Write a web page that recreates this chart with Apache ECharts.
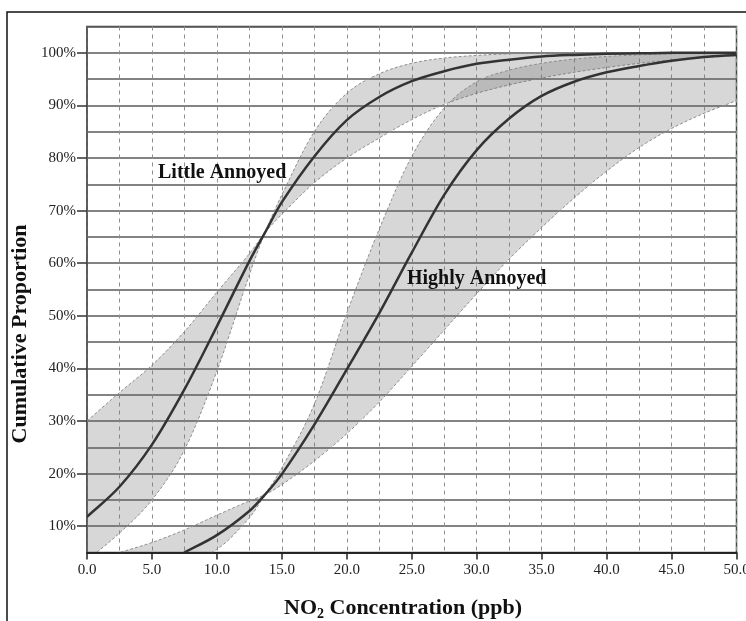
<!DOCTYPE html>
<html>
<head>
<meta charset="utf-8">
<script src="https://cdn.jsdelivr.net/npm/echarts@6/dist/echarts.min.js"></script>
<style>
  html, body { margin: 0; padding: 0; background: #fff; }
  #chart { width: 746px; height: 621px; }
</style>
</head>
<body>
<div id="chart"></div>
<script>
// NO2 concentration (ppb) sample points shared by every curve
var gridX = [0, 2.5, 5, 7.5, 10, 12.5, 13.7, 15, 17.5, 20, 22.5, 25, 27.5, 30, 32.5, 35, 37.5, 40, 42.5, 45, 47.5, 50];

// Little Annoyed: fitted curve and the two bounds of its band (%)
var littleMid = [11.8, 17.5, 25.5, 36, 48, 60.4, 65.8, 71.6, 80.3, 87.2, 91.6, 94.6, 96.5, 97.9, 98.7, 99.3, 99.6, 99.8, 99.9, 100, 100, 100];
var littleA = [30, 35.4, 40.6, 47, 54.5, 61.8, 65.8, 69.3, 75.3, 80, 83.8, 87.3, 90.2, 92.3, 93.9, 95.2, 96.3, 97.2, 98, 98.6, 99.1, 99.5];
var littleB = [3.5, 8.7, 15, 24.5, 39.5, 57.8, 65.8, 73, 85, 92.3, 96, 98, 99, 99.5, 99.8, 99.9, 100, 100, 100, 100, 100, 100];

// Highly Annoyed: fitted curve and band bounds (%)
var highlyMid = [null, null, null, 5, 8.3, 12.9, 16, 19.9, 29.3, 39.8, 50.5, 62, 73, 81.5, 87.5, 91.8, 94.5, 96.3, 97.5, 98.5, 99.2, 99.6];
var highlyA = [3.2, 5, 6.9, 9.3, 12.1, 14.8, 16, 17.9, 22.4, 27.6, 33.6, 40.4, 47.3, 54.2, 60.8, 66.8, 72.4, 77.5, 82, 85.6, 88.5, 90.9];
var highlyB = [0.5, 1, 1.8, 3.3, 5.6, 11.6, 16, 21.1, 33.2, 50.5, 66.5, 80.3, 89.5, 94.5, 96.7, 98, 98.8, 99.3, 99.6, 99.8, 99.9, 100];

var xTicks = [0, 5, 10, 15, 20, 25, 30, 35, 40, 45, 50];
var yTicks = [10, 20, 30, 40, 50, 60, 70, 80, 90, 100];

var serif = "'Liberation Serif', 'Times New Roman', serif";

// cubic segments through pixel points, slopes from neighbouring points
function curveSegs(p) {
  var n = p.length, m = [];
  for (var i = 0; i < n; i++) {
    var a = p[Math.max(i - 1, 0)], b = p[Math.min(i + 1, n - 1)];
    m.push((b[1] - a[1]) / (b[0] - a[0]));
  }
  var d = '';
  for (var j = 0; j < n - 1; j++) {
    var h = (p[j + 1][0] - p[j][0]) / 3;
    d += ' C' + (p[j][0] + h) + ',' + (p[j][1] + m[j] * h) + ' ' +
      (p[j + 1][0] - h) + ',' + (p[j + 1][1] - m[j + 1] * h) + ' ' + p[j + 1][0] + ',' + p[j + 1][1];
  }
  return d;
}

function clipRect(cs) {
  return { type: 'rect', shape: { x: cs.x, y: cs.y, width: cs.width, height: cs.height } };
}

function bandSeries(a, b) {
  return {
    type: 'custom',
    clip: true,
    silent: true,
    encode: { x: 0, y: [1, 2] },
    data: gridX.map(function (x, i) { return [x, a[i], b[i]]; }),
    renderItem: function (params, api) {
      if (params.dataIndex !== 0) return;
      var pa = gridX.map(function (x, i) { return api.coord([x, a[i]]); });
      var pb = gridX.map(function (x, i) { return api.coord([x, b[i]]); }).reverse();
      var fill = 'M' + pa[0].join(',') + curveSegs(pa) + ' L' + pb[0].join(',') + curveSegs(pb) + ' Z';
      var edge = { fill: 'none', stroke: '#8e8e8e', lineWidth: 1, lineDash: [3, 2] };
      return {
        type: 'group',
        clipPath: clipRect(params.coordSys),
        children: [
          { type: 'path', shape: { pathData: fill }, style: { fill: 'rgba(110,110,110,0.28)', stroke: 'none' } },
          { type: 'path', shape: { pathData: 'M' + pa[0].join(',') + curveSegs(pa) }, style: edge },
          { type: 'path', shape: { pathData: 'M' + pb[0].join(',') + curveSegs(pb) }, style: edge }
        ]
      };
    }
  };
}

function midSeries(vals) {
  var rows = [];
  gridX.forEach(function (x, i) { if (vals[i] != null) rows.push([x, vals[i]]); });
  return {
    type: 'custom',
    clip: true,
    silent: true,
    z: 3,
    encode: { x: 0, y: 1 },
    data: rows,
    renderItem: function (params, api) {
      if (params.dataIndex !== 0) return;
      var p = rows.map(function (r) { return api.coord(r); });
      return {
        type: 'path',
        clipPath: clipRect(params.coordSys),
        shape: { pathData: 'M' + p[0].join(',') + curveSegs(p) },
        style: { fill: 'none', stroke: '#333', lineWidth: 2.5, lineCap: 'round' }
      };
    }
  };
}

var chart = echarts.init(document.getElementById('chart'));
var option = {
  backgroundColor: '#fff',
  animation: false,
  grid: {
    left: 87, right: 9.5, top: 26.5, bottom: 68.5,
    outerBoundsMode: 'none',
    show: true, borderColor: '#444', borderWidth: 1.5
  },
  xAxis: [
    {
      type: 'value', min: 0, max: 50, interval: 2.5, position: 'bottom',
      axisLine: { show: false }, axisTick: { show: false }, axisLabel: { show: false },
      splitLine: { show: true, lineStyle: { color: '#8f8f8f', width: 1, type: [4, 4] } }
    },
    {
      type: 'value', min: 0, max: 50, interval: 5, position: 'bottom', offset: 0,
      axisLine: { show: true, lineStyle: { color: '#111', width: 1.5 } },
      axisTick: { show: true, length: 7, lineStyle: { color: '#222', width: 1.5 } },
      axisLabel: {
        margin: 10, fontSize: 15, fontFamily: serif, color: '#222',
        formatter: function (v) { return v.toFixed(1); }
      },
      splitLine: { show: false }
    }
  ],
  yAxis: [
    {
      type: 'value', min: 5, max: 105, interval: 5, position: 'left',
      axisLine: { show: false }, axisTick: { show: false }, axisLabel: { show: false },
      splitLine: { show: true, lineStyle: { color: '#5a5a5a', width: 1.5 } }
    },
    {
      type: 'value', min: 5, max: 105, interval: 5, position: 'left', offset: 0,
      axisLine: { show: true, lineStyle: { color: '#555', width: 1.5 } },
      axisTick: { show: true, customValues: yTicks, length: 10, lineStyle: { color: '#333', width: 1.5 } },
      axisLabel: {
        customValues: yTicks, margin: 11, fontSize: 15, fontFamily: serif, color: '#222',
        formatter: '{value}%'
      },
      splitLine: { show: false }
    }
  ],
  graphic: [
    { type: 'rect', shape: { x: 7, y: 12, width: 800, height: 700 }, style: { fill: 'none', stroke: '#111', lineWidth: 1.5 } },
    {
      type: 'text', x: 20, y: 334, rotation: Math.PI / 2,
      style: { text: 'Cumulative Proportion', fontSize: 22, fontWeight: 'bold', fontFamily: serif, fill: '#111', align: 'center', verticalAlign: 'middle' }
    },
    {
      type: 'text', x: 403, y: 608,
      style: {
        text: '{a|NO}{s|2}{a| Concentration (ppb)}', align: 'center', verticalAlign: 'middle',
        rich: {
          a: { fontSize: 22, fontWeight: 'bold', fontFamily: serif, fill: '#111', lineHeight: 26 },
          s: { fontSize: 14, fontWeight: 'bold', fontFamily: serif, fill: '#111', lineHeight: 14, verticalAlign: 'bottom' }
        }
      }
    },
    {
      type: 'text', x: 158, y: 173, z: 10,
      style: { text: 'Little Annoyed', fontSize: 20, fontWeight: 'bold', fontFamily: serif, fill: '#111', align: 'left', verticalAlign: 'middle' }
    },
    {
      type: 'text', x: 407, y: 279, z: 10,
      style: { text: 'Highly Annoyed', fontSize: 20, fontWeight: 'bold', fontFamily: serif, fill: '#111', align: 'left', verticalAlign: 'middle' }
    }
  ],
  series: [
    bandSeries(littleA, littleB),
    bandSeries(highlyA, highlyB),
    midSeries(littleMid),
    midSeries(highlyMid)
  ]
};
chart.setOption(option);
</script>
</body>
</html>
